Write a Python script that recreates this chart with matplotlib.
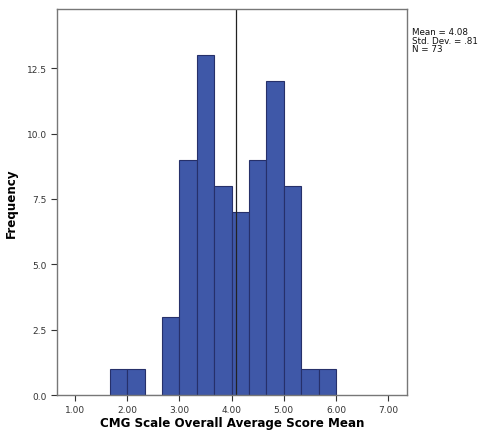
import matplotlib.pyplot as plt
import numpy as np

# histogram data
bin_edges = [5/3, 2.0, 7/3, 8/3, 3.0, 10/3, 11/3, 4.0, 13/3, 14/3, 5.0, 16/3, 17/3, 6.0]
counts = [1, 1, 0, 3, 9, 13, 8, 7, 9, 12, 8, 1, 1]
mean, sd, n = 4.08, 0.81, 73
xticks = [1, 2, 3, 4, 5, 6, 7]
yticks = [0, 2.5, 5, 7.5, 10, 12.5]

fig = plt.figure(figsize=(4.81, 4.31), dpi=100)
ax = fig.add_axes([0.1185, 0.0812, 0.7277, 0.8956])

edges = np.array(bin_edges)
ax.bar(edges[:-1], counts, width=np.diff(edges), align='edge',
       color='#3f58a8', edgecolor='#26306a', linewidth=0.8)
ax.axvline(mean, color='#222222', linewidth=0.9)

ax.set_xlim(0.655, 7.36)
ax.set_ylim(0, 14.77)
ax.set_xticks(xticks)
ax.set_xticklabels([f"{t:.2f}" for t in xticks])
ax.set_yticks(yticks)
ax.set_yticklabels([f"{t:.1f}" for t in yticks])
ax.tick_params(labelsize=6.5, colors='#333333', length=4, width=0.8)
for s in ax.spines.values():
    s.set_color('#777777')
    s.set_linewidth(1.0)

ax.set_xlabel('CMG Scale Overall Average Score Mean', fontsize=8.6, fontweight='bold', va='center')
ax.xaxis.set_label_coords(0.5, -0.0725)
ax.set_ylabel('Frequency', fontsize=8.6, fontweight='bold', va='center')
ax.yaxis.set_label_coords(-0.129, 0.5)

fig.text(0.857, 0.935, f"Mean = {mean:.2f}\nStd. Dev. = .81\nN = {n}",
         fontsize=6.3, va='top', ha='left', linespacing=0.95, color='#111111')

fig.savefig('out.png', dpi=100)
